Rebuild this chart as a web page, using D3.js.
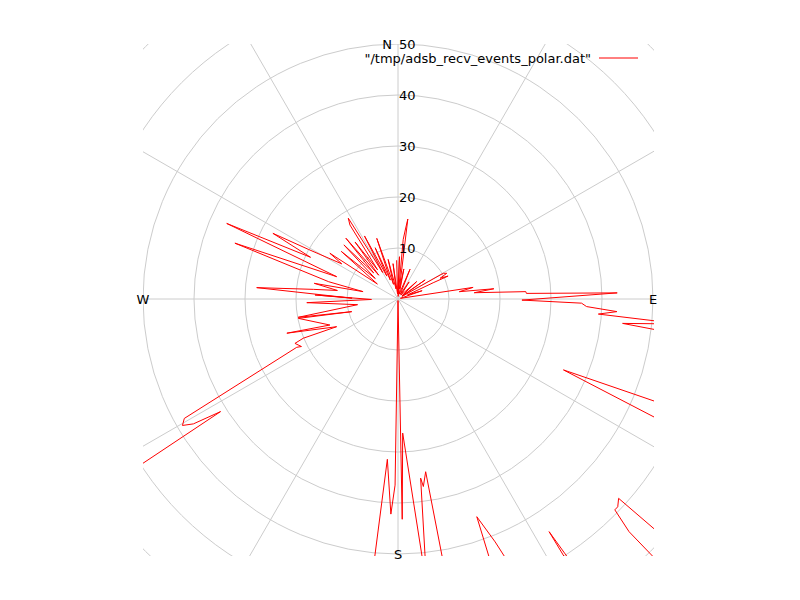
<!DOCTYPE html>
<html>
<head>
<meta charset="utf-8">
<script src="https://cdn.jsdelivr.net/npm/d3@7"></script>
<style>
  html, body { margin: 0; padding: 0; background: #fff; }
  svg { display: block; }
  text { font-family: "DejaVu Sans", sans-serif; font-size: 13px; fill: #000; }
</style>
</head>
<body>
<svg id="chart" width="800" height="600"></svg>
<script>
// ---- data: bearing (degrees, clockwise from north) and range, in plot order ----
const angles = [
  0, 2, 3, 5, 6, 7, 8, 11, 14, 22, 26, 33, 38, 47, 52, 54.9, 57, 60.4, 62.2, 63.8, 65.4, 65.2, 67, 71, 75,
  81.2, 83.2, 83.9, 85.3, 86.7, 87.5, 88.4, 90.5, 91.3, 92.3, 93.3, 94.3, 95.05, 96.2, 97.2, 104,
  111, 113.2, 115, 123, 131.5, 132.1, 133.4, 134.2, 135.2, 135.4, 140, 146.5, 147, 147.3,
  157.1, 158.2, 160.1, 161, 170.1, 170.9, 172.3, 172.8, 174.4, 174.1,
  178, 178.9, 179.5, 180.9, 181.9, 183.8, 185.5, 200, 220,
  237.1, 237.6, 238.6, 239.6, 240.8, 244.5, 243.8, 246.7, 247.5, 245.7, 252.9, 249.1, 259, 254.7, 259.6,
  262, 267.7, 269, 272.8, 271, 274.6, 276.5, 278, 280.6, 281.9, 284, 288.9, 290, 293.8, 295.5, 297.7, 299,
  302, 303.9, 306, 310, 312, 315, 317, 319.4, 321, 323, 325, 327, 328.4, 330, 332, 334, 336, 338,
  340.7, 343, 346, 349, 352, 355, 358
];
const ranges = [
  1, 8.3, 0.5, 11.7, 13.6, 15.8, 2, 6, 1, 6.3, 1, 4, 1, 5, 1, 6.5, 1, 10.2, 10.8, 9.2, 10.8, 7.6, 2, 5, 0.5,
  14.9, 12.1, 18.9, 15.0, 25.1, 25.2, 43.0, 24.3, 36.0, 37.0, 43.0, 39.4, 55.7, 44.3, 56.5, 70,
  73, 35.3, 61, 90, 100, 58.3, 59.3, 59.3, 64.3, 83, 85, 66, 54.4, 65,
  57, 51.3, 45.4, 65, 59.3, 34.3, 37.1, 35.4, 59.5, 60.1,
  26.3, 43.2, 0.3, 36.5, 42.2, 31.5, 60, 75, 80,
  68.5, 41.2, 47.0, 49.0, 48.0, 22.0, 21.1, 22.0, 20.1, 13.2, 22.8, 14.3, 19.9, 9.4, 19.9,
  8, 17.9, 5.2, 16.3, 9, 27.8, 16.7, 12, 16.7, 7.0, 14, 33.8, 12.8, 36.7, 19, 27.7, 20,
  13, 16.1, 5, 14.5, 6, 15, 7, 15.7, 6, 14, 7, 17.3, 18.6, 6, 14, 5, 11, 4,
  12.6, 3, 8, 2, 7, 1, 7.6
];
const ringTicks = [10, 20, 30, 40, 50];
const gridRings = [10, 20, 30, 40, 50, 60, 70];
const spokeAngles = [0, 30, 60, 90, 120, 150, 180, 210, 240, 270, 300, 330];
const compass = [
  { label: "N", angle: 0 }, { label: "E", angle: 90 },
  { label: "S", angle: 180 }, { label: "W", angle: 270 }
];
const legendLabel = "\"/tmp/adsb_recv_events_polar.dat\"";

// ---- layout ----
const cx = 398, cy = 299;
const r = d3.scaleLinear().domain([0, 50]).range([0, 255]);
const svg = d3.select("#chart");

svg.append("defs").append("clipPath").attr("id", "plotclip")
  .append("rect").attr("x", 143).attr("y", 44).attr("width", 511).attr("height", 512);

const clipped = svg.append("g").attr("clip-path", "url(#plotclip)");
const g = clipped.append("g").attr("transform", `translate(${cx},${cy})`);

// grid rings
g.selectAll("circle.ring").data(gridRings).join("circle")
  .attr("class", "ring")
  .attr("r", d => r(d))
  .attr("fill", "none")
  .attr("stroke", "#cccccc")
  .attr("stroke-width", 1);

// spokes
g.selectAll("line.spoke").data(spokeAngles).join("line")
  .attr("class", "spoke")
  .attr("x1", 0).attr("y1", 0)
  .attr("x2", d => r(90) * Math.sin(d * Math.PI / 180))
  .attr("y2", d => -r(90) * Math.cos(d * Math.PI / 180))
  .attr("stroke", "#cccccc")
  .attr("stroke-width", 1);

// data line
const pts = angles.map((a, i) => ({ a, v: ranges[i] }));
const line = d3.lineRadial()
  .angle(d => d.a * Math.PI / 180)
  .radius(d => r(d.v));
g.append("path")
  .datum(pts)
  .attr("d", line)
  .attr("fill", "none")
  .attr("stroke", "#ff0000")
  .attr("stroke-width", 1);

// labels (not clipped)
const lab = svg.append("g").attr("transform", `translate(${cx},${cy})`);
lab.selectAll("text.rtick").data(ringTicks).join("text")
  .attr("class", "rtick")
  .attr("x", 1)
  .attr("y", d => -r(d))
  .attr("dy", "0.35em")
  .attr("text-anchor", "start")
  .text(d => d);

lab.selectAll("text.compass").data(compass).join("text")
  .attr("class", "compass")
  .attr("x", d => d.angle === 0 ? -6 : r(50) * Math.sin(d.angle * Math.PI / 180))
  .attr("y", d => -r(50) * Math.cos(d.angle * Math.PI / 180))
  .attr("dy", "0.35em")
  .attr("text-anchor", d => d.angle === 0 ? "end" : "middle")
  .text(d => d.label);

// legend
const leg = svg.append("g");
leg.append("text")
  .attr("x", 591).attr("y", 58).attr("dy", "0.35em")
  .attr("text-anchor", "end")
  .text(legendLabel);
leg.append("line")
  .attr("x1", 599).attr("x2", 638).attr("y1", 58).attr("y2", 58)
  .attr("stroke", "#ff0000").attr("stroke-width", 1);
</script>
</body>
</html>
